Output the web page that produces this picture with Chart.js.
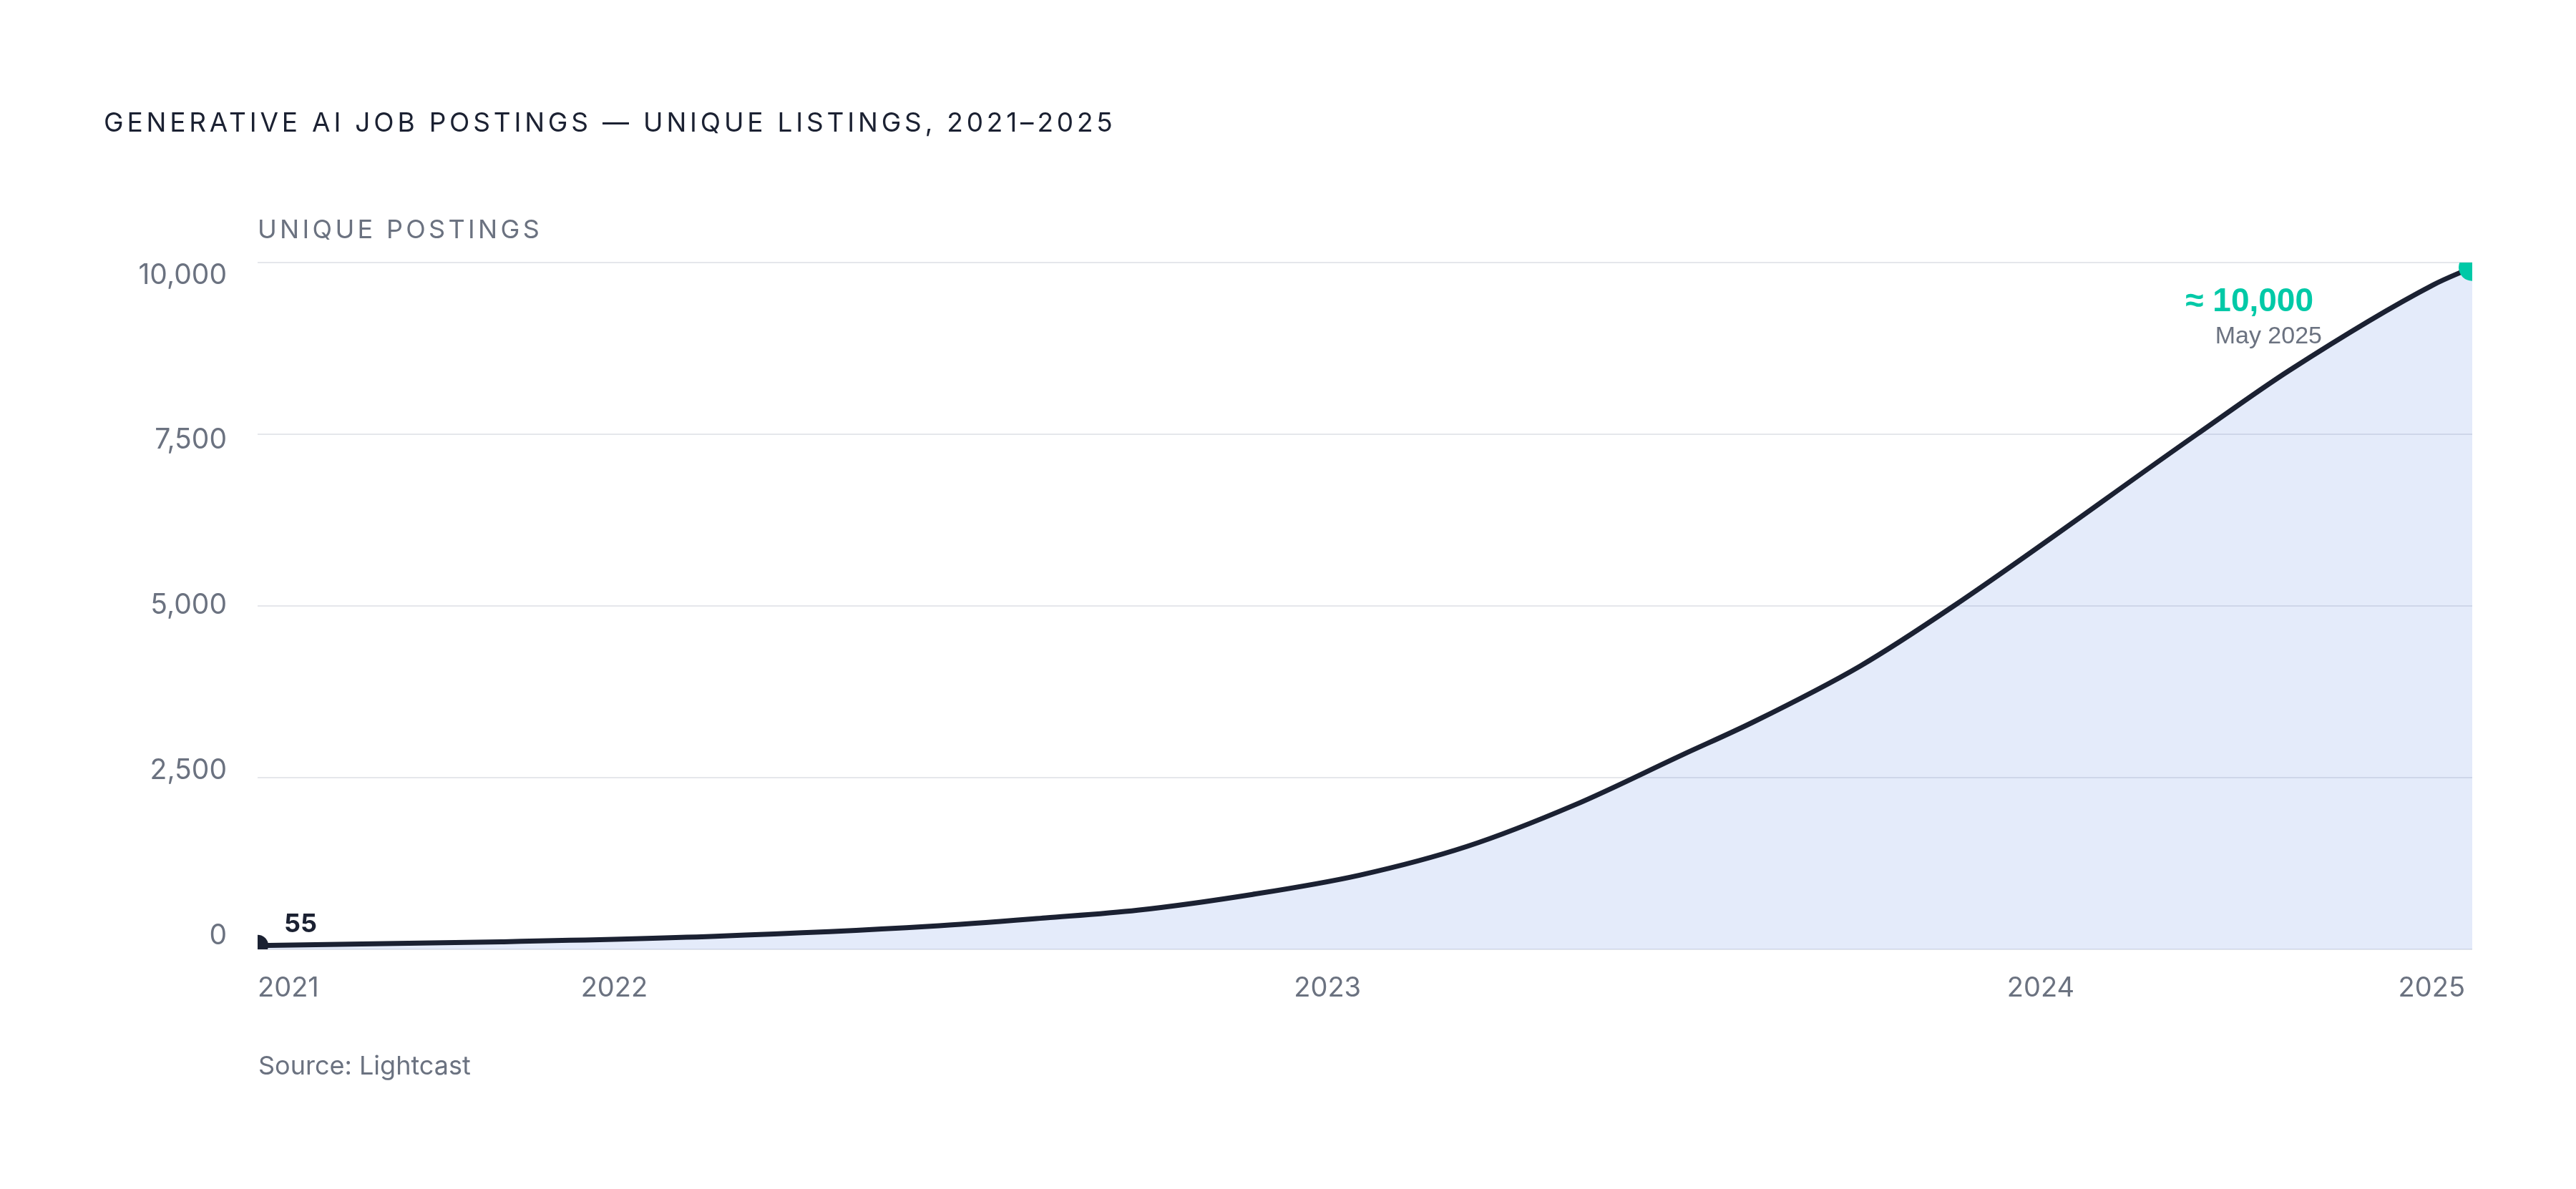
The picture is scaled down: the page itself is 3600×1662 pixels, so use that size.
<!DOCTYPE html>
<html>
<head>
<meta charset="utf-8">
<script src="https://cdn.jsdelivr.net/npm/chart.js@4.4.1/dist/chart.umd.min.js"></script>
<style>
  html, body { margin: 0; padding: 0; background: #fff; }
  body { width: 3600px; height: 1662px; position: relative; overflow: hidden; font-family: Inter, "Noto Sans", sans-serif; }
  #chart { position: absolute; left: 0; top: 0; }
  .txt { position: absolute; white-space: nowrap; line-height: 1; }
  #title { left: 145px; top: 152px; font-size: 37px; font-weight: 400; letter-spacing: 0.13em; color: #1b2132; }
  #ylabel { left: 360px; top: 302px; font-size: 36px; letter-spacing: 0.12em; color: #6b7280; }
  #source { left: 361px; top: 1471px; font-size: 36px; color: #6b7280; }
</style>
</head>
<body>
<canvas id="chart" width="3600" height="1662"></canvas>
<div class="txt" id="title">GENERATIVE AI JOB POSTINGS — UNIQUE LISTINGS, 2021–2025</div>
<div class="txt" id="ylabel">UNIQUE POSTINGS</div>
<div class="txt" id="source">Source: Lightcast</div>
<script>
// position of each point along the time axis as drawn (years)
const xPos = [2021.5, 2021.842, 2022.142, 2022.443, 2022.605, 2022.734, 2022.895, 2023.045, 2023.196,
              2023.346, 2023.497, 2023.597, 2023.747, 2023.878, 2024.219, 2024.349, 2024.55, 2024.605];
const postings = [55, 110, 190, 335, 458, 570, 800, 1080, 1500,
                  2100, 2830, 3310, 4126, 5000, 7500, 8433, 9674, 9930];

const xTickPos = [2021.5, 2022, 2023, 2024, 2024.595];
const xTickLabels = ['2021', '2022', '2023', '2024', '2025'];
const yTicks = [0, 2500, 5000, 7500, 10000];

const startLabel = '55';
const endLabel = '≈ 10,000';
const endDate = 'May 2025';

const ink = '#1b2132';
const grey = '#6b7280';
const teal = '#00c9a7';

Chart.defaults.font.family = 'Inter, "Noto Sans", sans-serif';
Chart.defaults.color = grey;

const annotate = {
    id: 'annotate',
    afterDatasetsDraw(chart) {
        let pts = chart.getDatasetMeta(0).data;
        let first = pts[0], last = pts[pts.length - 1];
        let c = chart.ctx;
        c.save();
        c.textBaseline = 'middle';
        c.textAlign = 'left';
        c.fillStyle = ink;
        c.font = '700 36px Inter';
        c.fillText(startLabel, first.x + 37, first.y - 30);
        c.textAlign = 'right';
        c.fillStyle = teal;
        c.font = 'bold 46px "Liberation Sans", Arial, sans-serif';
        c.fillText(endLabel, last.x - 222, last.y + 49);
        c.fillStyle = grey;
        c.font = '34px "Liberation Sans", Arial, sans-serif';
        c.fillText(endDate, last.x - 210, last.y + 97);
        c.restore();
    }
};

let ctx = document.getElementById('chart').getContext('2d');

new Chart(ctx, {
    type: 'line',
    data: {
        datasets: [{
            data: xPos.map((x, i) => ({ x: x, y: postings[i] })),
            borderColor: ink,
            borderWidth: 7,
            backgroundColor: 'rgba(75, 122, 222, 0.15)',
            fill: 'origin',
            cubicInterpolationMode: 'monotone',
            pointRadius: postings.map((v, i) => i === 0 ? 15 : (i === postings.length - 1 ? 19 : 0)),
            pointBackgroundColor: postings.map((v, i) => i === postings.length - 1 ? teal : ink),
            pointBorderWidth: 0,
            clip: 0
        }]
    },
    options: {
        responsive: false,
        animation: false,
        events: [],
        layout: { padding: { top: 367, right: 145, bottom: 235, left: 0 } },
        plugins: { legend: { display: false }, tooltip: { enabled: false } },
        scales: {
            x: {
                type: 'linear',
                min: xPos[0],
                max: xPos[xPos.length - 1],
                grid: { display: false, drawTicks: false },
                border: { display: false },
                afterBuildTicks: axis => { axis.ticks = xTickPos.map(v => ({ value: v })); },
                afterFit: axis => { axis.height = 100; },
                ticks: {
                    autoSkip: false,
                    maxRotation: 0,
                    align: 'inner',
                    padding: 32,
                    color: grey,
                    font: { size: 38 },
                    callback: (v, i) => xTickLabels[i]
                }
            },
            y: {
                min: 0,
                max: 10000,
                weight: 0,
                grid: { color: '#e5e7eb', lineWidth: 2, drawTicks: false },
                border: { display: false },
                afterBuildTicks: axis => { axis.ticks = yTicks.map(v => ({ value: v })); },
                afterFit: axis => { axis.width = 0; },
                ticks: { display: false }
            },
            yl: {
                position: 'left',
                min: -206,
                max: 10195,
                weight: 1,
                grid: { display: false, drawTicks: false },
                border: { display: false },
                afterBuildTicks: axis => { axis.ticks = yTicks.map(v => ({ value: v })); },
                afterFit: axis => { axis.width = 360; },
                ticks: {
                    padding: 43,
                    color: grey,
                    font: { size: 39 },
                    callback: v => v.toLocaleString('en-US')
                }
            }
        }
    },
    plugins: [annotate]
});
</script>
</body>
</html>
